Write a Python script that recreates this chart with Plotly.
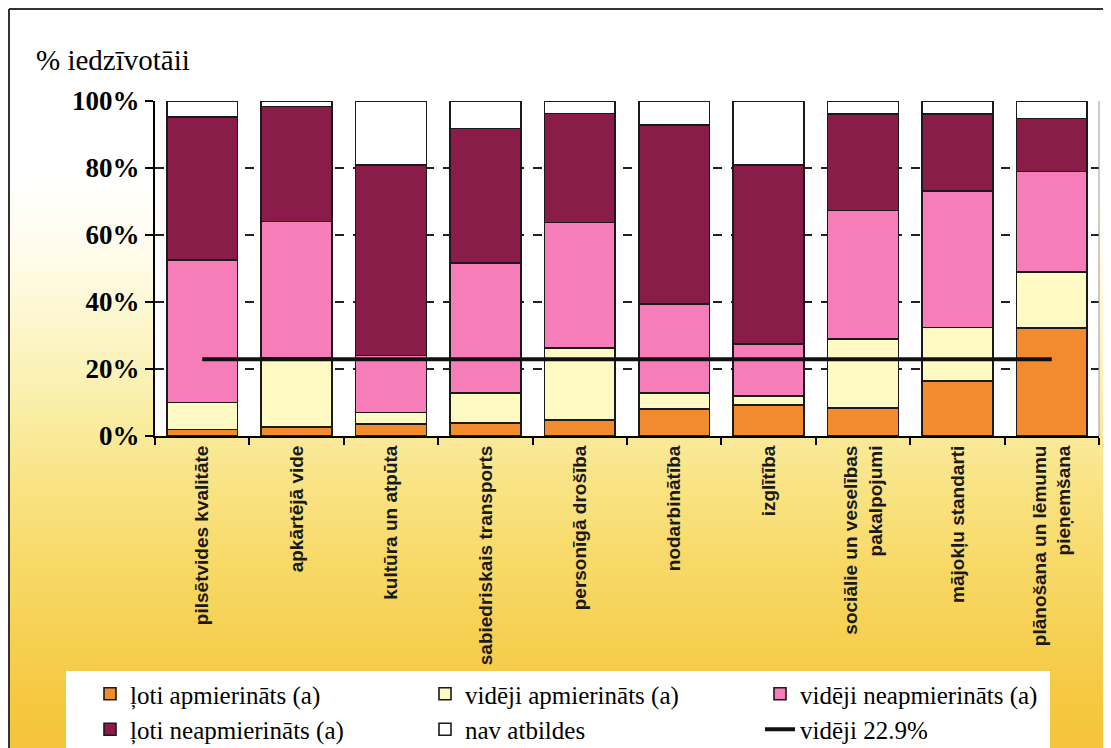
import plotly.graph_objects as go

categories = [
    "pilsētvides kvalitāte",
    "apkārtējā vide",
    "kultūra un atpūta",
    "sabiedriskais transports",
    "personīgā drošība",
    "nodarbinātība",
    "izglītība",
    "sociālie un veselības<br>pakalpojumi",
    "mājokļu standarti",
    "plānošana un lēmumu<br>pieņemšana",
]

loti_apmierinats = [2.0, 2.6, 3.5, 3.8, 4.8, 8.0, 9.3, 8.3, 16.5, 32.3]
videji_apmierinats = [8.0, 20.6, 3.5, 9.1, 21.4, 4.9, 2.6, 20.6, 15.9, 16.7]
videji_neapmierinats = [42.5, 40.8, 17.0, 38.8, 37.5, 26.5, 15.5, 38.4, 40.8, 29.9]
loti_neapmierinats = [42.8, 34.3, 56.9, 40.1, 32.6, 53.4, 53.5, 28.8, 22.9, 15.9]
nav_atbildes = [4.7, 1.7, 19.1, 8.2, 3.7, 7.2, 19.1, 3.9, 3.9, 5.2]
videji = [22.9] * len(categories)

series_names = [
    "ļoti apmierināts (a)",
    "vidēji apmierināts (a)",
    "vidēji neapmierināts (a)",
    "ļoti neapmierināts (a)",
    "nav atbildes",
]
line_name = "vidēji 22.9%"
y_title = "% iedzīvotāii"
y_ticks = [0, 20, 40, 60, 80, 100]
y_ticktext = ["0%", "20%", "40%", "60%", "80%", "100%"]

colors = ["#F28A2E", "#FFF9C4", "#F67DB7", "#8A1C4A", "#FFFFFF"]
series_values = [loti_apmierinats, videji_apmierinats, videji_neapmierinats,
                 loti_neapmierinats, nav_atbildes]

# page has an 8px body margin; figure sized to fit the window
OFF = 8
W, H = 1111 - OFF, 748 - OFF
# plot area in reference pixels: x 155..1099, y 101..436
PL, PR, PT, PB = 155, 1099, 101, 436
ML, MT = PL - OFF, PT - OFF
MR = W - (PR - OFF)
MB = H - (PB - OFF)
PW = W - ML - MR
PH = H - MT - MB


def py(ref_y):
    """reference pixel y -> paper y"""
    return (PB - ref_y) / PH


def px(ref_x):
    return (ref_x - PL) / PW


fig = go.Figure()
for name, vals, col in zip(series_names, series_values, colors):
    fig.add_trace(go.Bar(
        x=categories, y=vals, name=name,
        marker=dict(color=col, line=dict(color="#1a1a1a", width=1.6)),
        width=0.75,
    ))

fig.add_trace(go.Scatter(
    x=categories, y=videji, name=line_name, mode="lines",
    line=dict(color="#111111", width=4),
))

# background gradient (style only)
stops = [
    (0, (255, 255, 255)), (180, (255, 255, 255)), (250, (255, 252, 236)),
    (320, (253, 247, 206)), (400, (250, 239, 170)), (470, (249, 229, 138)),
    (550, (248, 219, 108)), (630, (246, 209, 84)), (700, (245, 200, 64)),
    (748, (244, 196, 58)),
]


def col_at(y):
    for (y0, c0), (y1, c1) in zip(stops[:-1], stops[1:]):
        if y0 <= y <= y1:
            t = (y - y0) / (y1 - y0) if y1 > y0 else 0
            c = [round(a + (b - a) * t) for a, b in zip(c0, c1)]
            return "rgb(%d,%d,%d)" % tuple(c)
    return "rgb(244,196,58)"


shapes = []
step = 6
for y in range(8, 760, step):
    shapes.append(dict(type="rect", xref="paper", yref="paper", layer="below",
                       x0=px(0), x1=px(1120), y0=py(y + step + 1), y1=py(y),
                       fillcolor=col_at(y + step / 2), line=dict(width=0)))
# white plot area
shapes.append(dict(type="rect", xref="paper", yref="paper", layer="below",
                   x0=0, x1=1, y0=0, y1=1, fillcolor="white", line=dict(width=0)))
# legend box
shapes.append(dict(type="rect", xref="paper", yref="paper", layer="below",
                   x0=px(66), x1=px(1050), y0=py(760), y1=py(671),
                   fillcolor="white", line=dict(width=0)))
# outer frame lines
shapes.append(dict(type="line", xref="paper", yref="paper", layer="below",
                   x0=px(9), x1=px(1120), y0=py(9), y1=py(9),
                   line=dict(color="#333333", width=2)))
shapes.append(dict(type="line", xref="paper", yref="paper", layer="below",
                   x0=px(9), x1=px(9), y0=py(9), y1=py(760),
                   line=dict(color="#333333", width=2)))
# faint right border of plot area
shapes.append(dict(type="line", xref="paper", yref="paper", layer="above",
                   x0=1, x1=1, y0=0, y1=1,
                   line=dict(color="#9a9a9a", width=1)))

fig.update_layout(
    width=W, height=H,
    margin=dict(l=ML, r=MR, t=MT, b=MB, pad=0, autoexpand=False),
    paper_bgcolor="white", plot_bgcolor="white",
    barmode="stack",
    shapes=shapes,
    showlegend=True,
    legend=dict(
        orientation="h", x=px(90), xanchor="left", y=py(671), yanchor="top",
        bgcolor="rgba(0,0,0,0)", entrywidth=290, traceorder="normal",
        font=dict(family="Liberation Serif, Times New Roman, serif", size=25, color="black"),
    ),
    annotations=[dict(
        text=y_title, xref="paper", yref="paper", x=px(34), y=py(60),
        xanchor="left", yanchor="middle", showarrow=False,
        font=dict(family="Liberation Serif, Times New Roman, serif", size=29, color="black"),
    )],
)

fig.update_yaxes(
    range=[0, 100], tickvals=y_ticks, ticktext=y_ticktext, automargin=False,
    tickfont=dict(family="Liberation Serif, Times New Roman, serif", size=27,
                  color="black", weight="bold"),
    showline=True, linecolor="black", linewidth=2,
    ticks="outside", ticklen=8, tickcolor="black", tickwidth=2,
    showgrid=True, gridcolor="#222222", gridwidth=1.5, griddash="dash",
    zeroline=False,
)
fig.update_xaxes(
    tickangle=-90, tickson="boundaries", ticks="outside", ticklen=7,
    tickcolor="black", tickwidth=2, automargin=False,
    showline=True, linecolor="black", linewidth=2,
    tickfont=dict(family="Liberation Sans Narrow, Arial Narrow, Liberation Sans, Arial, sans-serif",
                  size=19, color="#1a1a1a", weight="bold"),
    showgrid=False,
)

fig.write_html("out.html")
